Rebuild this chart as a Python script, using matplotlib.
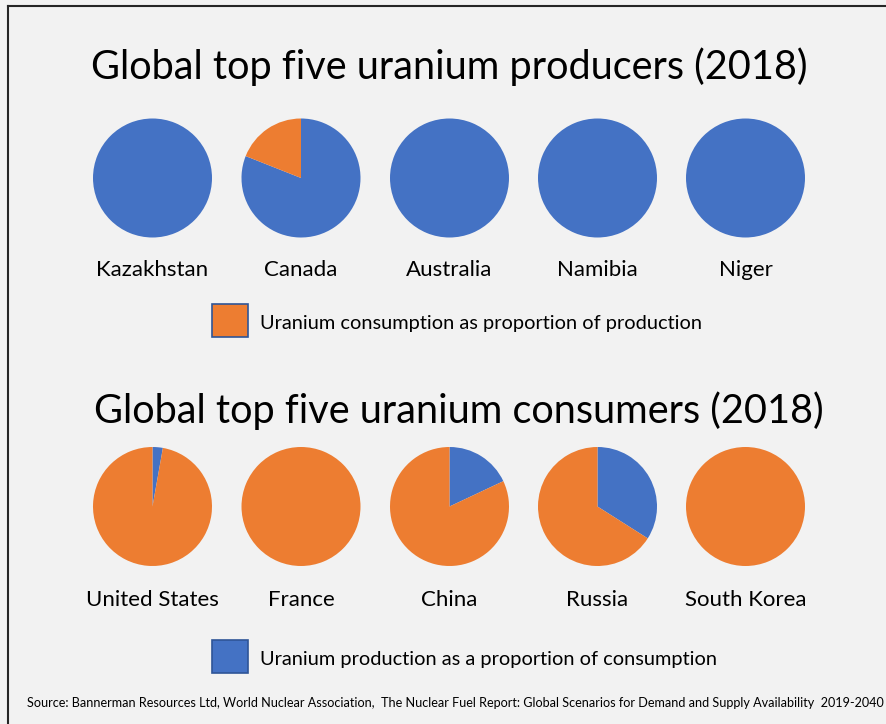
import matplotlib
matplotlib.use('Agg')
import matplotlib.pyplot as plt
from matplotlib.patches import Rectangle
from matplotlib.lines import Line2D

# shares in percent
producers = ['Kazakhstan', 'Canada', 'Australia', 'Namibia', 'Niger']
consumption_of_production = [0, 19, 0, 0, 0]
consumers = ['United States', 'France', 'China', 'Russia', 'South Korea']
production_of_consumption = [2.8, 0, 18, 34, 0]

title_top = 'Global top five uranium producers (2018)'
title_bottom = 'Global top five uranium consumers (2018)'
legend_top = 'Uranium consumption as proportion of production'
legend_bottom = 'Uranium production as a proportion of consumption'
source = ('Source: Bannerman Resources Ltd, World Nuclear Association,  The Nuclear Fuel Report: '
          'Global Scenarios for Demand and Supply Availability  2019-2040')

BLUE = '#4472C4'
ORANGE = '#ED7D31'
BG = '#F2F2F2'
W, H = 886, 724

plt.rcParams['font.family'] = ['Lato', 'DejaVu Sans']

fig = plt.figure(figsize=(W / 100, H / 100), dpi=100, facecolor=BG)


def fx(px):
    return px / W


def fy(py):
    return 1 - py / H


def draw_pie(cx, cy, values, colors):
    r = 59.5
    ax = fig.add_axes([fx(cx - r), fy(cy + r), 2 * r / W, 2 * r / H])
    ax.pie(values, colors=colors, startangle=90, counterclock=False,
           wedgeprops={'linewidth': 0})
    ax.set_xlim(-1, 1)
    ax.set_ylim(-1, 1)
    ax.set_aspect('equal')
    ax.axis('off')


centers_x = [152.5, 301, 449.5, 597.5, 745.5]

for i, name in enumerate(producers):
    share = consumption_of_production[i]
    draw_pie(centers_x[i], 178, [100 - share, share], [BLUE, ORANGE])
    fig.text(fx(centers_x[i]), fy(276), name, ha='center', va='baseline', fontsize=16)

for i, name in enumerate(consumers):
    share = production_of_consumption[i]
    draw_pie(centers_x[i], 506.5, [share, 100 - share], [BLUE, ORANGE])
    fig.text(fx(centers_x[i]), fy(606), name, ha='center', va='baseline', fontsize=16)

fig.text(fx(449), fy(79), title_top, ha='center', va='baseline', fontsize=28.5)
fig.text(fx(459), fy(423), title_bottom, ha='center', va='baseline', fontsize=28.5)

# legend boxes
fig.patches.append(Rectangle((fx(212), fy(337)), 36 / W, 33 / H, transform=fig.transFigure,
                             facecolor=ORANGE, edgecolor='#2F5597', linewidth=1.2))
fig.text(fx(260), fy(329), legend_top, ha='left', va='baseline', fontsize=14.4)
fig.patches.append(Rectangle((fx(212), fy(673)), 36 / W, 33 / H, transform=fig.transFigure,
                             facecolor=BLUE, edgecolor='#2F5597', linewidth=1.2))
fig.text(fx(260), fy(665), legend_bottom, ha='left', va='baseline', fontsize=14.4)

fig.text(fx(27), fy(707), source, ha='left', va='baseline', fontsize=9.1)

# frame lines on top and left edges
fig.add_artist(Line2D([fx(8), 1], [fy(6), fy(6)], color='#262626', linewidth=1.5))
fig.add_artist(Line2D([fx(8), fx(8)], [fy(6), 0], color='#262626', linewidth=1.5))

fig.savefig('out.png', dpi=100, facecolor=BG)
